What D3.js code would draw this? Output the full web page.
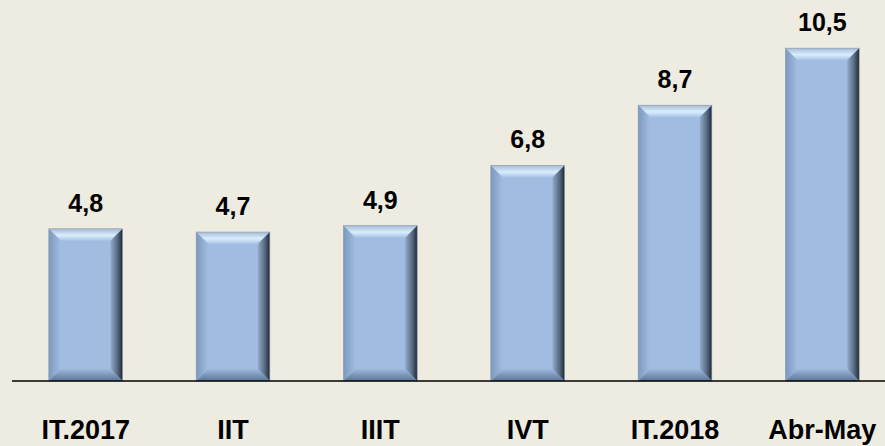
<!DOCTYPE html>
<html>
<head>
<meta charset="utf-8">
<script src="https://cdn.jsdelivr.net/npm/d3@7"></script>
<style>
  html, body { margin: 0; padding: 0; background: #eeebe0; }
  svg { display: block; }
  .val { font-family: Arial, "Liberation Sans", sans-serif; font-weight: bold; font-size: 25px; fill: #000; }
  .cat { font-family: Arial, "Liberation Sans", sans-serif; font-weight: bold; font-size: 27px; fill: #000; }
</style>
</head>
<body>
<div id="chart"></div>
<script>
// data
const categories = ['IT.2017', 'IIT', 'IIIT', 'IVT', 'IT.2018', 'Abr-May'];
const values = [4.8, 4.7, 4.9, 6.8, 8.7, 10.5];
const labels = ['4,8', '4,7', '4,9', '6,8', '8,7', '10,5'];

const width = 885;
const height = 446;
const baseY = 381;
const bevel = 12;

const x = d3.scaleBand()
  .domain(categories)
  .range([12, 896])
  .paddingInner(0.5)
  .paddingOuter(0.25);

const y = d3.scaleLinear()
  .domain([0, 12])
  .range([baseY, baseY - 31.7 * 12]);

const svg = d3.select('#chart').append('svg')
  .attr('width', width)
  .attr('height', height);

svg.append('rect')
  .attr('width', width).attr('height', height)
  .attr('fill', '#eeebe0');

// gradients for the bevel edges
const defs = svg.append('defs');
function grad(id, x1, y1, x2, y2, stops) {
  const g = defs.append('linearGradient').attr('id', id)
    .attr('x1', x1).attr('y1', y1).attr('x2', x2).attr('y2', y2);
  stops.forEach(s => g.append('stop').attr('offset', s[0]).attr('stop-color', s[1]));
}
grad('bTop', 0, 0, 0, 1, [[0, '#a9bbd2'], [0.55, '#d8eefe'], [1, '#a8c2e4']]);
grad('bLeft', 0, 0, 1, 0, [[0, '#7d98bd'], [1, '#a2bde2']]);
grad('bRight', 0, 0, 1, 0, [[0, '#93abcb'], [0.6, '#56687f'], [1, '#1f2833']]);
grad('bBottom', 0, 0, 0, 1, [[0, '#9eb9de'], [1, '#5b7596']]);

const data = categories.map((c, i) => ({ cat: c, value: values[i], label: labels[i] }));

const bars = svg.append('g').selectAll('g.bar')
  .data(data)
  .enter()
  .append('g')
  .attr('class', 'bar');

bars.each(function(d) {
  const g = d3.select(this);
  const x0 = x(d.cat);
  const x1 = x0 + x.bandwidth();
  const y0 = y(d.value);
  const y1 = y(0);
  const b = bevel;

  g.append('rect')
    .attr('x', x0).attr('y', y0)
    .attr('width', x1 - x0).attr('height', y1 - y0)
    .attr('fill', '#a0bce1');

  const poly = (pts, fill) => g.append('polygon')
    .attr('points', pts.map(p => p.join(',')).join(' '))
    .attr('fill', fill);

  poly([[x0, y0], [x1, y0], [x1 - b, y0 + b], [x0 + b, y0 + b]], 'url(#bTop)');
  poly([[x0, y0], [x0 + b, y0 + b], [x0 + b, y1 - b], [x0, y1]], 'url(#bLeft)');
  poly([[x1, y0], [x1, y1], [x1 - b, y1 - b], [x1 - b, y0 + b]], 'url(#bRight)');
  poly([[x0, y1], [x0 + b, y1 - b], [x1 - b, y1 - b], [x1, y1]], 'url(#bBottom)');

  g.append('rect')
    .attr('x', x0).attr('y', y0)
    .attr('width', x1 - x0).attr('height', y1 - y0)
    .attr('fill', 'none')
    .attr('stroke', '#8a9bb0')
    .attr('stroke-width', 0.6);
});

// value labels
svg.append('g').selectAll('text')
  .data(data)
  .enter()
  .append('text')
  .attr('class', 'val')
  .attr('x', d => x(d.cat) + x.bandwidth() / 2)
  .attr('y', d => y(d.value) - 17)
  .attr('text-anchor', 'middle')
  .text(d => d.label);

// baseline
svg.append('line')
  .attr('x1', 12).attr('x2', width)
  .attr('y1', baseY).attr('y2', baseY)
  .attr('stroke', '#000')
  .attr('stroke-width', 1.5);

// category labels
svg.append('g').selectAll('text')
  .data(categories)
  .enter()
  .append('text')
  .attr('class', 'cat')
  .attr('x', d => x(d) + x.bandwidth() / 2)
  .attr('y', 439)
  .attr('text-anchor', 'middle')
  .text(d => d);
</script>
</body>
</html>
